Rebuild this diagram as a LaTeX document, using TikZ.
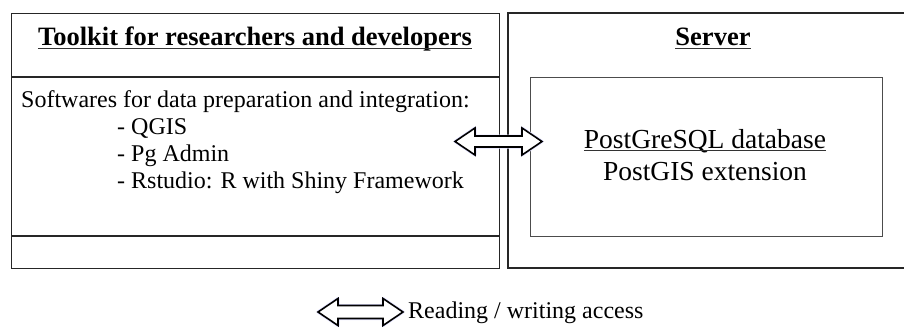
\documentclass[tikz,border=0pt]{standalone}
\usepackage{fontspec}
\setmainfont{Liberation Serif}
\begin{document}
\begin{tikzpicture}[x=1pt,y=-1pt,
  boxline/.style={draw=black!85,line width=1.3pt},
  innerline/.style={draw=black!70,line width=1.3pt},
  ulline/.style={draw=black!80,line width=1pt},
  txt/.style={inner sep=0pt,anchor=base west,font=\fontsize{24}{28}\selectfont},
  ctxt/.style={inner sep=0pt,anchor=base,font=\fontsize{27.5}{30}\selectfont},
  ttl/.style={inner sep=0pt,anchor=base,font=\fontsize{26.5}{30}\selectfont\bfseries},
  arrowglow/.style={draw=blue!12,line width=3pt,line join=round},
  arrowbody/.style={draw=black,fill=white,line width=1.6pt,line join=miter}]
\useasboundingbox (0,0) rectangle (904,327);
\clip (0,0) rectangle (904,327);
% boxes
\node[boxline,minimum width=488pt,minimum height=255pt,anchor=north west,inner sep=0pt] (tool) at (11,13) {};
\draw[boxline] (11,77) -- (499,77);
\draw[boxline] (11,236) -- (499,236);
\coordinate (srvNW) at (508,13);
\coordinate (srvSW) at (508,268);
\draw[boxline] (930,13) -- (srvNW) -- (srvSW) -- (930,268);
\node[innerline,minimum width=352pt,minimum height=159pt,anchor=north west,inner sep=0pt] (db) at (530,77) {};
% texts
\node[ttl] (tooltitle) at (255,45) {Toolkit for researchers and developers};
\node[ttl] (srvtitle) at (713,45) {Server};
\draw[ulline] ([yshift=-3.5pt]tooltitle.base west) -- ([yshift=-3.5pt]tooltitle.base east);
\draw[ulline] ([yshift=-3.5pt]srvtitle.base west) -- ([yshift=-3.5pt]srvtitle.base east);
\node[txt] (soft) at (21,107) {Softwares for data preparation and integration:};
\node[txt] (q) at (117,134) {- QGIS};
\node[txt] (pg) at (117,161) {- Pg Admin};
\node[txt] (rs) at (117,188) {- Rstudio: R with Shiny Framework};
\node[ctxt] (pgsql) at (705,148) {PostGreSQL database};
\draw[ulline] ([yshift=-2.5pt]pgsql.base west) -- ([yshift=-2.5pt]pgsql.base east);
\node[ctxt] (postgis) at (705,180) {PostGIS extension};
\node[txt] (legend) at (408,318) {Reading / writing access};
% connector arrow
\coordinate (aL) at (455,141.5);
\coordinate (aR) at (542,141.5);
\foreach \st in {arrowglow,arrowbody}{
  \draw[\st] (aL) -- ++(20,-13.5) -- ++(0,8) -- ++(47,0) -- ++(0,-8) -- (aR) -- ++(-20,13.5) -- ++(0,-8) -- ++(-47,0) -- ++(0,8) -- cycle;
}
% legend arrow
\coordinate (lL) at (318,312);
\coordinate (lR) at (403,312);
\foreach \st in {arrowglow,arrowbody}{
  \draw[\st] (lL) -- ++(20,-13.5) -- ++(0,7) -- ++(45,0) -- ++(0,-7) -- (lR) -- ++(-20,13.5) -- ++(0,-7) -- ++(-45,0) -- ++(0,7) -- cycle;
}
\end{tikzpicture}
\end{document}
